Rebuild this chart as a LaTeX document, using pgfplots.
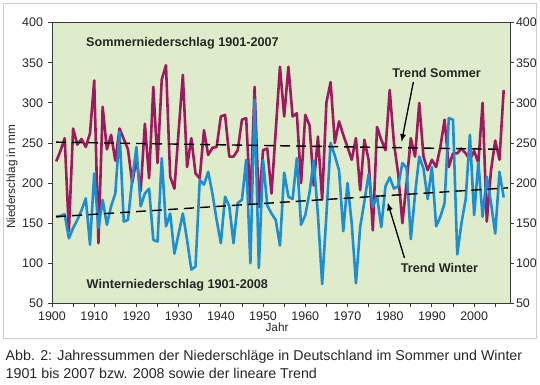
\documentclass[border=0pt]{standalone}
\usepackage{fontspec}
\setmainfont{Liberation Sans}
\usepackage{pgfplots}
\usepackage{pgfplotstable}
\pgfplotsset{compat=1.18}
\usetikzlibrary{arrows.meta}
\definecolor{sommer}{HTML}{9E1A5E}
\definecolor{winter}{HTML}{1E8ED2}
\definecolor{bg}{HTML}{DFECCB}
\definecolor{axgray}{HTML}{3A3A3A}

\pgfplotstableread{
year val
1901 227
1902 240
1903 256
1904 140
1905 268
1906 248
1907 255
1908 245
1909 262
1910 328
1911 125
1912 295
1913 242
1914 260
1915 228
1916 268
1917 255
1918 242
1919 200
1920 230
1921 190
1922 274
1923 206
1924 320
1925 225
1926 329
1927 347
1928 208
1929 193
1930 265
1931 335
1932 220
1933 256
1934 212
1935 206
1936 266
1937 235
1938 244
1939 245
1940 283
1941 285
1942 233
1943 233
1944 241
1945 279
1946 281
1947 175
1948 320
1949 170
1950 241
1951 243
1952 187
1953 265
1954 345
1955 283
1956 345
1957 283
1958 287
1959 200
1960 285
1961 272
1962 197
1963 258
1964 179
1965 300
1966 326
1967 250
1968 277
1969 260
1970 245
1971 229
1972 256
1973 191
1974 254
1975 229
1976 141
1977 270
1978 254
1979 241
1980 316
1981 250
1982 212
1983 150
1984 200
1985 256
1986 233
1987 300
1988 233
1989 216
1990 229
1991 220
1992 245
1993 279
1994 220
1995 237
1996 237
1997 243
1998 237
1999 229
2000 240
2001 225
2002 300
2003 152
2004 216
2005 253
2006 229
2007 316
}\sommertab

\pgfplotstableread{
year val
1901 158
1902 159
1903 161
1904 131
1905 144
1906 154
1907 166
1908 181
1909 123
1910 212
1911 144
1912 179
1913 148
1914 171
1915 187
1916 264
1917 152
1918 154
1919 204
1920 245
1921 171
1922 187
1923 193
1924 129
1925 127
1926 231
1927 146
1928 162
1929 112
1930 137
1931 162
1932 129
1933 92
1934 96
1935 204
1936 198
1937 214
1938 187
1939 154
1940 125
1941 183
1942 171
1943 125
1944 175
1945 179
1946 229
1947 100
1948 304
1949 94
1950 229
1951 172
1952 162
1953 154
1954 122
1955 213
1956 183
1957 180
1958 231
1959 148
1960 160
1961 188
1962 228
1963 160
1964 74
1965 160
1966 250
1967 234
1968 216
1969 140
1970 200
1971 150
1972 75
1973 145
1974 177
1975 211
1976 170
1977 184
1978 145
1979 196
1980 207
1981 193
1982 196
1983 225
1984 219
1985 130
1986 186
1987 233
1988 218
1989 180
1990 220
1991 146
1992 158
1993 175
1994 281
1995 279
1996 111
1997 150
1998 180
1999 260
2000 160
2001 226
2002 158
2003 208
2004 175
2005 137
2006 214
2007 182
}\wintertab

\begin{document}
\begin{tikzpicture}[x=1bp,y=1bp]
\path[use as bounding box] (-52,-80.7) rectangle (488,303.3);
\draw[gray!40, fill=white, line width=0.8bp] (-48.7,-35.3) rectangle (484.7,300.2);
\begin{axis}[
  at={(0,0)}, anchor=south west,
  scale only axis, width=458bp, height=280.6bp,
  xmin=1900, xmax=2008.5, ymin=50, ymax=400,
  axis background/.style={fill=bg},
  axis line style={axgray, line width=0.9bp},
  xtick={1900,1910,...,2000}, minor xtick={1905,1915,...,2005},
  ytick={50,100,...,400},
  xtick pos=lower, ytick pos=left, tick align=outside,
  major tick length=4bp, minor tick length=4bp,
  tick style={axgray, line width=0.9bp},
  every tick label/.append style={font=\fontsize{12.5}{14}\selectfont, text=black!85},
  xticklabel style={yshift=-1bp},
  yticklabel style={xshift=-1.5bp},
  /pgf/number format/assume math mode=true,
  /pgf/number format/set thousands separator={},
  xlabel={Jahr}, ylabel={Niederschlag in mm},
  label style={font=\fontsize{11.8}{13}\selectfont, text=black!85},
  xlabel style={at={(axis description cs:0.4913,-0.0845)}, anchor=center},
  ylabel style={at={(axis description cs:-0.0873,0.450)}, anchor=center},
]
\addplot[sommer, line width=2.6bp, line join=round] table[x=year,y=val] {\sommertab};
\addplot[winter, line width=2.6bp, line join=round] table[x=year,y=val] {\wintertab};
\addplot[black, line width=1.4bp, dash pattern=on 10bp off 6bp] coordinates {(1901,251) (2007,242)};
\addplot[black, line width=1.4bp, dash pattern=on 10bp off 6bp] coordinates {(1901,158) (2008,194)};
\node[font=\bfseries\fontsize{12.7}{14}\selectfont, text=black!85] at (axis cs:1930.9,374.6) {Sommerniederschlag 1901-2007};
\node[font=\bfseries\fontsize{12.7}{14}\selectfont, text=black!85] at (axis cs:1929.7,72.8) {Winterniederschlag 1901-2008};
\node[font=\bfseries\fontsize{12.7}{14}\selectfont, text=black!85] at (axis cs:1991.1,337) {Trend Sommer};
\node[font=\bfseries\fontsize{12.7}{14}\selectfont, text=black!85] at (axis cs:1991.8,94) {Trend Winter};
\draw[-{Latex[length=8bp,width=6bp]}, line width=1.3bp] (axis cs:1985.6,326) -- (axis cs:1982.8,251);
\draw[-{Latex[length=8bp,width=6bp]}, line width=1.3bp] (axis cs:1983.5,106.5) -- (axis cs:1979.5,176);
\end{axis}
\begin{axis}[
  at={(0,0)}, anchor=south west,
  scale only axis, width=458bp, height=280.6bp,
  xmin=1900, xmax=2008.5, ymin=50, ymax=400,
  hide x axis,
  axis y line*=right,
  axis line style={axgray, line width=0.9bp},
  ytick={50,100,...,400},
  tick align=outside, major tick length=4bp,
  tick style={axgray, line width=0.9bp},
  every tick label/.append style={font=\fontsize{12.5}{14}\selectfont, text=black!85},
  yticklabel style={xshift=-1.5bp},
  /pgf/number format/assume math mode=true,
]
\end{axis}
\node[anchor=base west, font=\fontsize{14.3}{17}\selectfont, text=black!85, inner sep=0pt] at (-46.5,-56.7) {Abb. 2: Jahressummen der Niederschläge in Deutschland im Sommer und Winter};
\node[anchor=base west, font=\fontsize{14.3}{17}\selectfont, text=black!85, inner sep=0pt] at (-46.5,-75) {1901 bis 2007 bzw. 2008 sowie der lineare Trend};
\end{tikzpicture}
\end{document}
